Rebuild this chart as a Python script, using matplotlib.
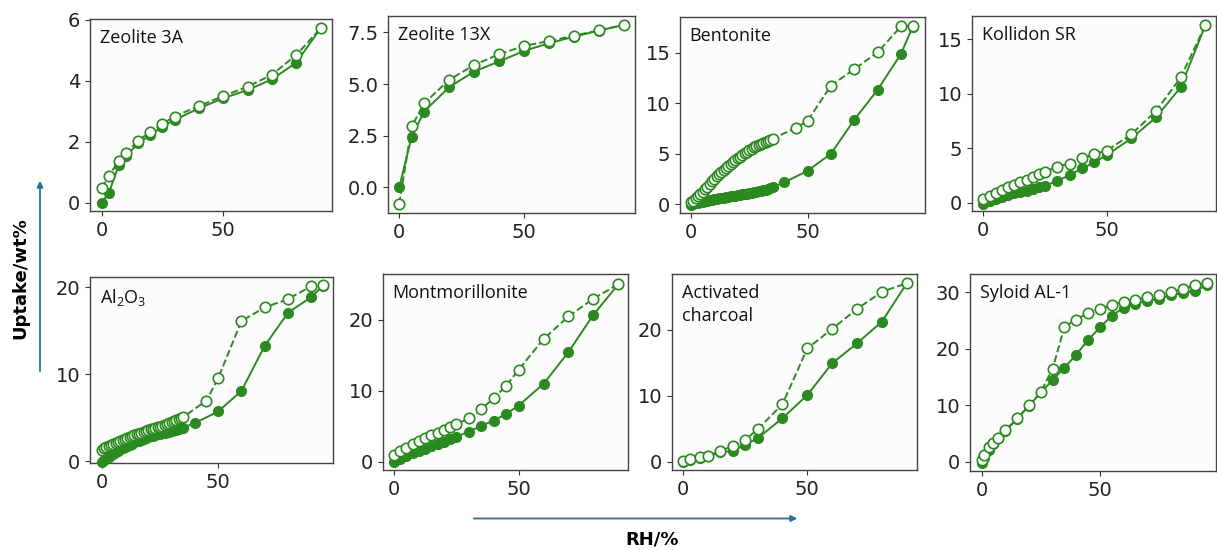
import matplotlib
matplotlib.use("Agg")
import matplotlib.pyplot as plt
from matplotlib.patches import FancyArrowPatch

plt.rcParams['mathtext.default'] = 'regular'

W, H = 1217, 550
green = '#2b8a1f'
arrowBlue = '#2a6f97'
panelBg = '#fcfcfc'

# ---- data ----
zeo3aRH = [0, 3, 7, 10, 15, 20, 25, 30, 40, 50, 60, 70, 80, 90]
zeo3aAds = [0, 0.33, 1.24, 1.53, 1.95, 2.22, 2.5, 2.72, 3.1, 3.43, 3.7, 4.05, 4.6, 5.72]
zeo3aDes = [0.49, 0.88, 1.38, 1.64, 2.04, 2.33, 2.59, 2.83, 3.18, 3.5, 3.81, 4.2, 4.85, 5.72]

zeo13xRH = [0, 5, 10, 20, 30, 40, 50, 60, 70, 80, 90]
zeo13xAds = [0, 2.46, 3.67, 4.85, 5.6, 6.09, 6.6, 6.97, 7.29, 7.58, 7.86]
zeo13xDes = [-0.8, 2.95, 4.07, 5.2, 5.92, 6.44, 6.84, 7.08, 7.33, 7.6, 7.86]

denseRH = [0, 1, 2, 3, 4, 5, 6, 7, 8, 9, 10, 11, 12, 13, 14, 15, 16, 17,
           18, 19, 20, 21, 22, 23, 24, 25, 26, 27, 28, 29, 30, 31, 32, 33, 34, 35]

bentAdsRH = denseRH + [40, 50, 60, 70, 80, 90, 95]
bentAds = [-0.1, 0.0, 0.08, 0.15, 0.2, 0.25, 0.3, 0.35, 0.4, 0.44, 0.48, 0.52,
           0.56, 0.6, 0.64, 0.68, 0.72, 0.76, 0.8, 0.84, 0.88, 0.92, 0.96, 1.0,
           1.04, 1.08, 1.12, 1.17, 1.22, 1.27, 1.32, 1.38, 1.44, 1.5, 1.58, 1.68,
           2.15, 3.3, 5.0, 8.37, 11.35, 14.9, 17.6]
bentDesRH = denseRH + [45, 50, 60, 70, 80, 90, 95]
bentDes = [0.2, 0.35, 0.55, 0.75, 0.95, 1.2, 1.45, 1.7, 1.98, 2.25, 2.5, 2.75,
           2.95, 3.2, 3.4, 3.6, 3.8, 4.0, 4.2, 4.4, 4.55, 4.7, 4.88, 5.05,
           5.2, 5.35, 5.5, 5.63, 5.77, 5.9, 6.0, 6.1, 6.2, 6.3, 6.4, 6.5,
           7.55, 8.27, 11.75, 13.4, 15.06, 17.64, 17.7]

kollRH = [0, 2.5, 5, 7.5, 10, 12.5, 15, 17.5, 20, 22.5, 25, 30, 35, 40, 45, 50, 60, 70, 80, 90]
kollAds = [-0.1, 0.2, 0.38, 0.55, 0.72, 0.86, 1.0, 1.12, 1.25, 1.4, 1.56, 2.0,
           2.54, 3.15, 3.7, 4.38, 5.9, 7.84, 10.6, 16.3]
kollDes = [0.3, 0.6, 0.9, 1.15, 1.4, 1.65, 1.88, 2.1, 2.35, 2.6, 2.85, 3.3,
           3.6, 4.07, 4.47, 4.78, 6.28, 8.42, 11.5, 16.3]

aloAdsRH = denseRH + [40, 50, 60, 70, 80, 90, 95]
aloAds = [-0.1, 0.15, 0.35, 0.55, 0.75, 0.9, 1.05, 1.2, 1.38, 1.55, 1.7, 1.82,
          1.94, 2.06, 2.18, 2.3, 2.4, 2.5, 2.6, 2.7, 2.8, 2.88, 2.96, 3.04,
          3.12, 3.2, 3.26, 3.32, 3.38, 3.44, 3.5, 3.58, 3.66, 3.74, 3.82, 3.9,
          4.4, 5.74, 8.1, 13.3, 17.1, 18.9, 20.2]
aloDesRH = denseRH + [45, 50, 60, 70, 80, 90, 95]
aloDes = [1.35, 1.5, 1.62, 1.75, 1.88, 2.0, 2.12, 2.24, 2.36, 2.48, 2.6, 2.7,
          2.8, 2.9, 3.0, 3.1, 3.2, 3.3, 3.4, 3.5, 3.6, 3.68, 3.76, 3.84,
          3.92, 4.0, 4.1, 4.2, 4.3, 4.4, 4.5, 4.62, 4.74, 4.86, 4.98, 5.1,
          7.0, 9.56, 16.14, 17.7, 18.66, 20.15, 20.3]

montRH = [0, 2.5, 5, 7.5, 10, 12.5, 15, 17.5, 20, 22.5, 25, 30, 35, 40, 45, 50, 60, 70, 80, 90]
montAds = [-0.1, 0.45, 0.85, 1.2, 1.55, 1.85, 2.15, 2.45, 2.8, 3.15, 3.5, 4.24,
           5.04, 5.79, 6.73, 7.9, 10.97, 15.44, 20.7, 25.0]
montDes = [0.95, 1.5, 2.0, 2.45, 2.9, 3.3, 3.7, 4.1, 4.5, 4.85, 5.25, 6.12,
           7.4, 8.95, 10.69, 12.95, 17.28, 20.47, 22.97, 25.0]

charRH = [0, 3, 7, 10, 15, 20, 25, 30, 40, 50, 60, 70, 80, 90]
charAds = [0, 0.3, 0.55, 0.8, 1.4, 1.67, 2.53, 3.55, 6.59, 10.13, 14.94, 17.98, 21.27, 27.1]
charDes = [0.05, 0.4, 0.66, 0.9, 1.62, 2.38, 3.3, 4.92, 8.72, 17.2, 20.16, 23.2, 25.8, 27.1]

sylRH = [0, 1, 3, 5, 7, 10, 15, 20, 25, 30, 35, 40, 45, 50, 55, 60, 65, 70, 75, 80, 85, 90, 95]
sylAds = [-0.2, 0.7, 2.1, 3.2, 4.2, 5.5, 7.6, 9.9, 12.3, 14.5, 16.7, 19.0,
          21.6, 23.8, 25.9, 27.3, 28.0, 28.5, 28.9, 29.5, 29.9, 30.2, 31.3]
sylDes = [0.3, 1.2, 2.6, 3.4, 4.3, 5.6, 7.7, 10.0, 12.4, 16.5, 23.9, 25.2,
          26.4, 27.0, 27.8, 28.3, 28.7, 29.2, 29.6, 30.0, 30.6, 31.3, 31.6]

labels = ['Zeolite 3A', 'Zeolite 13X', 'Bentonite', 'Kollidon SR',
          'Al$_2$O$_3$', 'Montmorillonite', 'Activated\ncharcoal', 'Syloid AL-1']

# (rh ads, ads, rh des, des)
series = [
    (zeo3aRH, zeo3aAds, zeo3aRH, zeo3aDes),
    (zeo13xRH, zeo13xAds, zeo13xRH, zeo13xDes),
    (bentAdsRH, bentAds, bentDesRH, bentDes),
    (kollRH, kollAds, kollRH, kollDes),
    (aloAdsRH, aloAds, aloDesRH, aloDes),
    (montRH, montAds, montRH, montDes),
    (charRH, charAds, charRH, charDes),
    (sylRH, sylAds, sylRH, sylDes),
]

# panel boxes in pixels: left, top, right, bottom
boxes = [(90, 19, 332, 211), (388, 16, 635, 213), (680, 17, 925, 213), (972, 16, 1216, 211),
         (90, 277, 333, 463), (383, 274, 628, 470), (672, 274, 917, 470), (970, 274, 1216, 471)]
xlims = [(-4.8, 94.7), (-4.5, 94.5), (-4.7, 100.3), (-4.6, 94.3),
         (-5.0, 99.3), (-4.4, 93.9), (-4.4, 94.1), (-4.9, 99.0)]
ylims = [(-0.27, 6.03), (-1.24, 8.29), (-0.89, 18.57), (-0.76, 17.14),
         (-0.18, 21.2), (-1.17, 26.45), (-1.26, 28.5), (-1.6, 33.26)]
yticks = [[0, 2, 4, 6], [0.0, 2.5, 5.0, 7.5], [0, 5, 10, 15], [0, 5, 10, 15],
          [0, 10, 20], [0, 10, 20], [0, 10, 20], [0, 10, 20, 30]]

fig = plt.figure(figsize=(W / 100, H / 100), dpi=100)

for i in range(8):
    l, t, r, b = boxes[i]
    ax = fig.add_axes([l / W, 1 - b / H, (r - l) / W, (b - t) / H])
    ax.set_facecolor(panelBg)
    xa, ya, xd, yd = series[i]
    ax.plot(xa, ya, '-o', color=green, lw=1.4, ms=7, clip_on=False, zorder=3)
    ax.plot(xd, yd, '--o', color=green, lw=1.4, ms=7.5, mfc=panelBg, mew=1.2,
            clip_on=False, zorder=4)
    ax.set_xlim(xlims[i])
    ax.set_ylim(ylims[i])
    ax.set_xticks([0, 50])
    ax.set_yticks(yticks[i])
    if i == 1:
        ax.set_yticklabels(['0.0', '2.5', '5.0', '7.5'])
    ax.tick_params(labelsize=14, color='#333333', labelcolor='#222222')
    for s in ax.spines.values():
        s.set_color('#444444')
        s.set_linewidth(1.0)
    ax.annotate(labels[i], xy=(0, 1), xycoords='axes fraction', xytext=(7, -7),
                textcoords='offset points', va='top', ha='left',
                fontsize=13, family=['Open Sans', 'DejaVu Sans'], color='#111111',
                linespacing=1.35)

# axis titles and arrows
fig.text(20 / W, 1 - 278 / H, 'Uptake/wt%', rotation=90, ha='center', va='center',
         fontsize=13, fontweight='bold')
fig.text(652 / W, 1 - 539 / H, 'RH/%', ha='center', va='center',
         fontsize=13, fontweight='bold')
fig.add_artist(FancyArrowPatch((40 / W, 1 - 374 / H), (40 / W, 1 - 178 / H),
                               transform=fig.transFigure, arrowstyle='-|>',
                               mutation_scale=9, lw=1.3, color=arrowBlue))
fig.add_artist(FancyArrowPatch((471 / W, 1 - 518.5 / H), (800 / W, 1 - 518.5 / H),
                               transform=fig.transFigure, arrowstyle='-|>',
                               mutation_scale=9, lw=1.3, color=arrowBlue))

fig.savefig('out.png', dpi=100)
